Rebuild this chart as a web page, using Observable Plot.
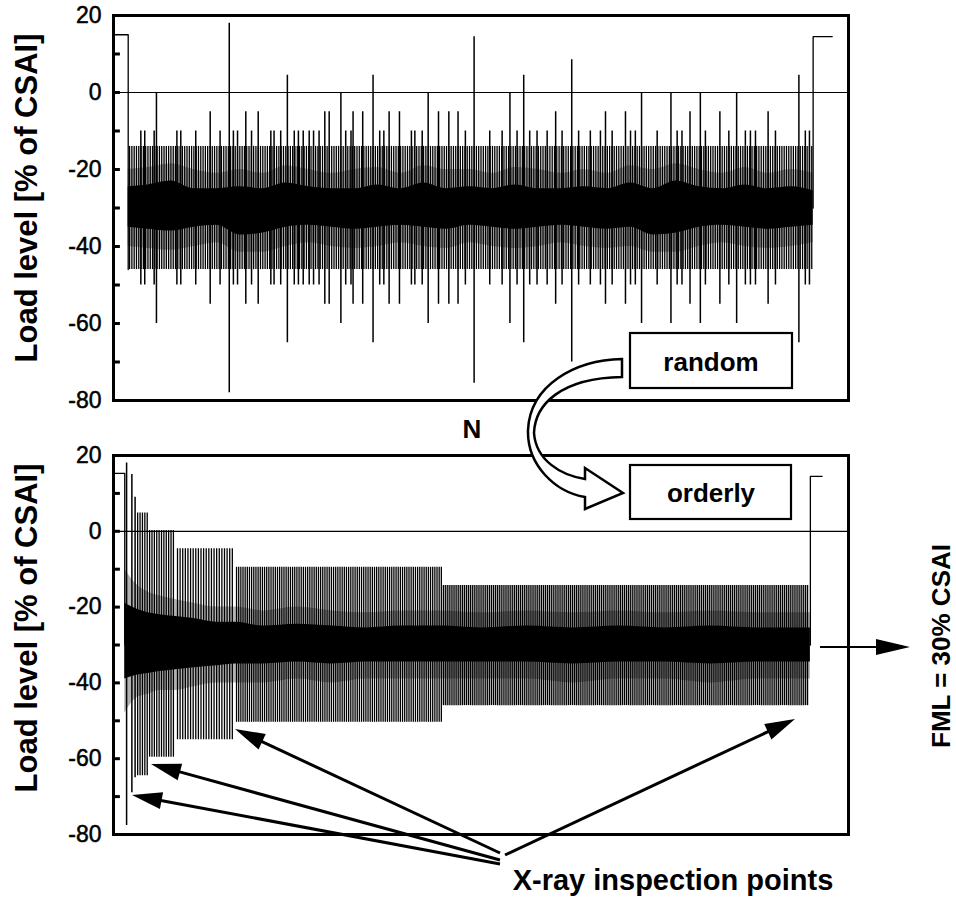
<!DOCTYPE html>
<html><head><meta charset="utf-8">
<script src="https://cdn.jsdelivr.net/npm/d3@7"></script>
<script src="https://cdn.jsdelivr.net/npm/@observablehq/plot@0.6"></script>
<style>
body{margin:0;background:#fff;}
#page{position:relative;width:956px;height:899px;overflow:hidden;background:#fff;}
#page svg{position:absolute;left:0;}
</style></head><body><div id="page"></div>
<script>
// ================= DATA =================
const yTitle = "Load level [% of CSAI]";
const yTicksLabeled = [20, 0, -20, -40, -60, -80];
const yTicksAll = [20, 10, 0, -10, -20, -30, -40, -50, -60, -70, -80];
const nDomain = [0, 320];          // cycle count N (no labels on this axis)
const loadDomain = [-80, 20];

// amplitude classes of the spectrum (max / min load, % of CSAI), mean -30
const classIds = ["A", "B", "C", "D", "E"];
const classMax = [-14, -10, -5, 0, 4.5];
const classMin = [-46, -50, -55, -60, -65];

// ---- top panel: "random" sequence ----
const topBaseFirst = 7, topBaseLast = 304;   // one class-A cycle per N slot
const topN_B = [11.9, 13.6, 17.7, 27.6, 29.3, 35.8, 46.4, 52.2, 54, 60.1, 68.5, 69.9, 72.8, 78.7, 80.5, 82.6, 85.2, 87.1, 89.5, 101.1, 103.4, 115.9, 117.7, 129.7, 131.2, 134.4, 153.2, 163.8, 169.2, 175.7, 181.2, 184.4, 188.8, 195.3, 202.5, 207.6, 212, 217.1, 225.1, 227.2, 236.7, 245.4, 247.5, 257.7, 267.9, 275.1, 277.3, 279.5, 288.2, 301.2, 303];
const topN_C = [42.1, 57.6, 63, 92, 93.9, 104.3, 108.5, 120, 124.5, 141.5, 146, 150, 192.5, 214.2, 222.9, 251, 264, 285];
const topN_D = [18.7, 99, 137, 172.6, 229.9, 242.7, 255.5, 271.3];
const topN_E = [75.7, 113, 178.6, 298.4];
const topBigN = [50.4, 157, 199.5];
const topBigMax = [18, 14.5, 8.5];
const topBigMin = [-78, -75.5, -70];
const topLeadN = [0, 6.4, 6.4], topLeadLoad = [15, 15, -46];
const topTailN = [304.6, 304.6, 312.9], topTailLoad = [-30, 14.5, 14.5];
// dense core of small cycles (upper / lower envelope) and the looser band of medium cycles around it
const topCoreN  = [6.4, 15, 25, 35, 45, 55, 65, 75, 85, 95, 105, 115, 125, 135, 145, 155, 165, 175, 185, 195, 205, 215, 225, 235, 245, 255, 265, 275, 285, 295, 304.6];
const topCoreHi = [-24.5, -24, -23, -25, -25, -24.5, -25, -23.5, -24.5, -25, -25, -24, -25, -23.5, -25, -24.5, -25, -24, -25, -25, -24.5, -25, -23.5, -25, -23, -24.5, -25, -24, -25, -24.5, -25.5];
const topCoreLo = [-35, -35.5, -36, -35, -34.5, -37, -36.5, -35, -34.5, -35, -35.5, -35, -34.5, -35, -35.5, -34.5, -35, -35.5, -35, -34.5, -35, -35.5, -35, -37, -36.5, -35, -34.5, -35, -35.5, -35, -34.5];
const topMidHi  = [-20, -19.5, -18.5, -20, -21, -20, -21, -19, -20, -21, -20, -19.5, -21, -19, -20, -20, -21, -19.5, -20, -21, -20, -21, -19, -20, -18.5, -20, -21, -19.5, -21, -20, -21];
const topMidLo  = [-40, -40.5, -41, -40, -39, -41.5, -41.5, -40, -39, -40, -40.5, -40, -39, -40, -40.5, -39, -40, -40.5, -40, -39, -40, -40.5, -40, -41.5, -41.5, -40, -39, -40, -40.5, -40, -39];

// ---- bottom panel: "orderly" sequence (blocks between X-ray inspections) ----
const botLeadN = [0, 4.9, 4.9], botLeadLoad = [15.3, 15.3, -30];
const botBigN = [5.7, 8.0, 9.4];
const botBigMax = [18, 15, 9];
const botBigMin = [-77.6, -69, -65];
const botBlockStart = [10.0, 15.2, 27.3, 53.1, 143.2];
const botBlockEnd   = [15.2, 26.6, 52.3, 143.2, 302.6];
const botBlockCount = [5, 11, 22, 96, 190];
const botBlockMax   = [4.8, 0.2, -4.6, -9.5, -14.3];
const botBlockMin   = [-64.5, -59.6, -55, -50.4, -46];
const botTailN = [303.4, 303.4, 308.5], botTailLoad = [-30, 14.5, 14.5];
const botCoreN  = [4.9, 10, 15, 20, 27, 35, 45, 53, 65, 80, 95, 110, 125, 143, 160, 180, 200, 220, 240, 260, 280, 303.4];
const botCoreHi = [-19, -20.5, -21.5, -22, -22.5, -23, -24, -24, -25, -24.5, -25, -25.5, -25, -25, -25.5, -25, -25.5, -25, -25.5, -25, -25.5, -25.5];
const botCoreLo = [-39, -38, -37.5, -37, -36.5, -36, -35.5, -35, -35, -34.5, -35, -34.5, -34.5, -34.5, -34.5, -34.5, -35, -34.5, -34.5, -35, -34.5, -34.5];
const botMidHi  = [-10, -14, -16, -17, -18, -19, -20, -20, -21, -20, -21, -21.5, -21, -21, -21.5, -21, -21.5, -21, -21.5, -21, -21.5, -21.5];
const botMidLo  = [-48, -44, -43, -42, -42, -41, -40, -40, -40, -39, -40, -39, -39, -39, -39, -39, -40, -39, -39, -40, -39, -39];

// ================= BUILD TABLES =================
const topCycles = [];
for (let n = topBaseFirst; n <= topBaseLast; n++) topCycles.push({n, max: classMax[0], min: classMin[0]});
const topSpikes = [];
[topN_B, topN_C, topN_D, topN_E].forEach((arr, k) => arr.forEach(n => topSpikes.push({n, max: classMax[k + 1], min: classMin[k + 1]})));
topBigN.forEach((n, i) => topSpikes.push({n, max: topBigMax[i], min: topBigMin[i]}));
const topEnds = [
  ...topLeadN.map((n, i) => ({n, load: topLeadLoad[i], seg: "lead"})),
  ...topTailN.map((n, i) => ({n, load: topTailLoad[i], seg: "tail"}))
];
const topCore = topCoreN.map((n, i) => ({n, hi: topCoreHi[i], lo: topCoreLo[i], mhi: topMidHi[i], mlo: topMidLo[i]}));

const botCycles = [];
botBlockCount.forEach((c, b) => {
  const s = botBlockStart[b], e = botBlockEnd[b];
  for (let i = 0; i < c; i++) botCycles.push({n: s + (i + 0.5) * (e - s) / c, max: botBlockMax[b], min: botBlockMin[b]});
});
const botSpikes = botBigN.map((n, i) => ({n, max: botBigMax[i], min: botBigMin[i]}));
const botEnds = [
  ...botLeadN.map((n, i) => ({n, load: botLeadLoad[i], seg: "lead"})),
  ...botTailN.map((n, i) => ({n, load: botTailLoad[i], seg: "tail"}))
];
const botCore = botCoreN.map((n, i) => ({n, hi: botCoreHi[i], lo: botCoreLo[i], mhi: botMidHi[i], mlo: botMidLo[i]}));

const FONT = "'Liberation Sans', Arial, Helvetica, sans-serif";

function panel({height, marginTop, marginBottom, core, cycles, spikes, ends, titleDy}) {
  return Plot.plot({
    width: 956, height, marginLeft: 113, marginRight: 108, marginTop, marginBottom,
    x: {domain: nDomain, axis: null},
    y: {domain: loadDomain, axis: null},
    style: {fontFamily: FONT, fontSize: "22px", color: "black", background: "transparent", overflow: "visible"},
    marks: [
      Plot.areaY(core, {x: "n", y1: "mlo", y2: "mhi", fill: "black", fillOpacity: 0.3, curve: "monotone-x"}),
      Plot.areaY(core, {x: "n", y1: "lo", y2: "hi", fill: "black", curve: "monotone-x"}),
      Plot.ruleX(cycles, {x: "n", y1: "min", y2: "max", stroke: "black", strokeWidth: 1.3}),
      Plot.ruleX(spikes, {x: "n", y1: "min", y2: "max", stroke: "black", strokeWidth: 1.5}),
      Plot.line(ends, {x: "n", y: "load", z: "seg", stroke: "black", strokeWidth: 1.3}),
      Plot.ruleY([0], {stroke: "black", strokeWidth: 1.2}),
      Plot.ruleY(yTicksAll, {x1: nDomain[0], x2: nDomain[0] + 3, stroke: "black", strokeWidth: 3}),
      Plot.frame({stroke: "black", strokeWidth: 3}),
      Plot.text(yTicksLabeled, {y: d => d, text: d => String(d), frameAnchor: "left", textAnchor: "end", dx: -12, fontSize: 23, fill: "black", stroke: "black", strokeWidth: 0.5}),
      Plot.text([yTitle], {text: d => d, frameAnchor: "left", textAnchor: "middle", rotate: -90, dx: -86, dy: titleDy, fontSize: 31, fontWeight: "bold", fill: "black"})
    ]
  });
}

const page = document.getElementById("page");
const topPlot = panel({height: 420, marginTop: 15, marginBottom: 20, core: topCore, cycles: topCycles, spikes: topSpikes, ends: topEnds, titleDy: -10});
topPlot.style.top = "0px";
page.appendChild(topPlot);
const botPlot = panel({height: 415, marginTop: 15, marginBottom: 21, core: botCore, cycles: botCycles, spikes: botSpikes, ends: botEnds, titleDy: -17});
botPlot.style.top = "440px";
page.appendChild(botPlot);

// ================= ANNOTATIONS =================
function arrow(sx, sy, tx, ty, len, half, w) {
  const dx = tx - sx, dy = ty - sy, L = Math.hypot(dx, dy);
  const ux = dx / L, uy = dy / L, bx = tx - ux * len, by = ty - uy * len;
  const px = -uy * half, py = ux * half;
  return `<line x1="${sx}" y1="${sy}" x2="${bx + ux * 2}" y2="${by + uy * 2}" stroke="black" stroke-width="${w}"/>` +
    `<polygon points="${tx},${ty} ${bx + px},${by + py} ${bx - px},${by - py}" fill="black"/>`;
}
const xrayArrows = [[500, 864, 132, 795], [500, 860, 151, 764], [500, 853, 235, 729], [505, 855, 795, 719]];
let ov = `<svg xmlns="http://www.w3.org/2000/svg" width="956" height="899" style="position:absolute;left:0;top:0" font-family="${FONT}">`;
ov += `<path d="M622,359 C575,360 530,385 528,430 C527,465 555,492 585,497 L585,509 L623,493 L585,468 L585,479 C560,475 536,460 534,433 C535,405 560,378 622,377 Z" fill="white" stroke="black" stroke-width="2.5" stroke-linejoin="miter"/>`;
ov += `<rect x="630" y="333" width="162" height="55" fill="white" stroke="black" stroke-width="2.2"/>`;
ov += `<text x="711" y="371" text-anchor="middle" font-size="26" font-weight="bold">random</text>`;
ov += `<rect x="630" y="465" width="161" height="54" fill="white" stroke="black" stroke-width="2.2"/>`;
ov += `<text x="711" y="502" text-anchor="middle" font-size="26" font-weight="bold">orderly</text>`;
ov += `<text x="472" y="438" text-anchor="middle" font-size="26" font-weight="bold">N</text>`;
xrayArrows.forEach(a => ov += arrow(a[0], a[1], a[2], a[3], 30, 8.5, 3));
ov += `<text x="673" y="890" text-anchor="middle" font-size="29" font-weight="bold">X-ray inspection points</text>`;
ov += arrow(820, 647, 910, 647, 34, 8, 2);
ov += `<text transform="translate(950,646) rotate(-90)" text-anchor="middle" font-size="26" font-weight="bold">FML = 30% CSAI</text>`;
ov += `</svg>`;
page.insertAdjacentHTML("beforeend", ov);
</script></body></html>
